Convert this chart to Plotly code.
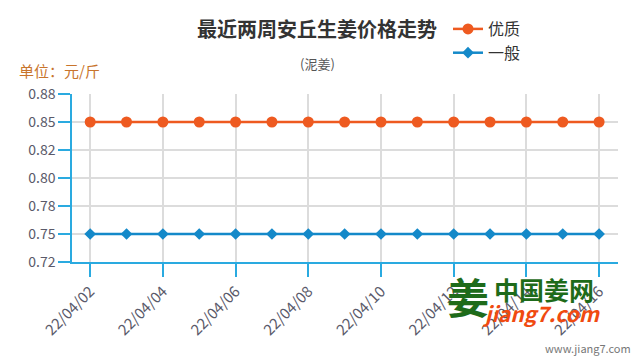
import plotly.graph_objects as go

dates = ["22/04/%02d" % d for d in range(2, 17)]
youzhi = [0.85] * 15
yiban = [0.75] * 15
x_tick_labels = dates[::2]
y_tick_vals = [0.725, 0.75, 0.775, 0.80, 0.825, 0.85, 0.875]
y_tick_text = ["0.72", "0.75", "0.78", "0.80", "0.82", "0.85", "0.88"]

FONT = "Noto Sans CJK SC"
ORANGE = "#ee5a20"
BLUE = "#1489c9"
AXIS = "#2aaae0"

L, R, T, B = 72, 618, 94, 262

fig = go.Figure()
fig.add_trace(go.Scatter(
    x=dates, y=youzhi, name="优质", mode="lines+markers",
    line=dict(color=ORANGE, width=2.5),
    marker=dict(symbol="circle", size=11, color=ORANGE),
))
fig.add_trace(go.Scatter(
    x=dates, y=yiban, name="一般", mode="lines+markers",
    line=dict(color=BLUE, width=2.5),
    marker=dict(symbol="diamond", size=9, color=BLUE),
))

fig.update_layout(
    width=640, height=360,
    margin=dict(l=L, r=640 - R, t=T, b=360 - B, autoexpand=False),
    paper_bgcolor="white", plot_bgcolor="white",
    font=dict(family=FONT, color="#555"),
    showlegend=True,
    legend=dict(x=(448 - L) / (R - L), y=(B - 12) / (B - T), xref="paper", yref="paper",
                xanchor="left", yanchor="top", font=dict(size=16, color="#333"),
                bgcolor="rgba(0,0,0,0)", itemwidth=30),
    xaxis=dict(
        type="category", range=[-0.5, 14.52],
        tickmode="array", tickvals=x_tick_labels, ticktext=x_tick_labels,
        tickangle=-45, tickfont=dict(size=15, color="#5a5a6a", family=FONT),
        showgrid=True, gridcolor="#dcdcdc", gridwidth=1.5,
        showline=True, linecolor=AXIS, linewidth=1.5,
        ticks="outside", ticklen=13, tickcolor=AXIS, tickwidth=1.5,
        zeroline=False, automargin=False,
    ),
    yaxis=dict(
        range=[0.725, 0.875],
        tickmode="array", tickvals=y_tick_vals, ticktext=y_tick_text,
        tickfont=dict(size=14, color="#5a5a6a", family=FONT),
        showgrid=True, gridcolor="#dcdcdc", gridwidth=1.5,
        showline=True, linecolor=AXIS, linewidth=1.5,
        ticks="outside", ticklen=12, tickcolor=AXIS, tickwidth=1.5,
        zeroline=False, automargin=False,
    ),
)

def add_px(text, x, y, size, color, xanchor="center", yanchor="middle"):
    fig.add_annotation(text=text, x=(x - L) / (R - L), y=(B - y) / (B - T),
                       xref="paper", yref="paper", showarrow=False,
                       xanchor=xanchor, yanchor=yanchor,
                       font=dict(size=size, color=color, family=FONT))

add_px("<b>最近两周安丘生姜价格走势</b>", 317, 28, 20, "#333")
add_px("(泥姜)", 317, 63, 13, "#555")
add_px("单位：元/斤", 17, 70, 15, "#c8742c", xanchor="left")
add_px("<b>姜</b>", 468, 295, 42, "#1e6b1a")
add_px("<b>中国姜网</b>", 544, 289, 25, "#1e6b1a")
add_px("<b><i>jiang7.com</i></b>", 541, 313, 21, "#f04a10")
add_px("www.jiang7.com", 633, 348, 11, "#777", xanchor="right")

fig.write_html("out.html", config={"displayModeBar": False},
               post_script="document.body.style.margin='0';document.body.style.padding='0';")
